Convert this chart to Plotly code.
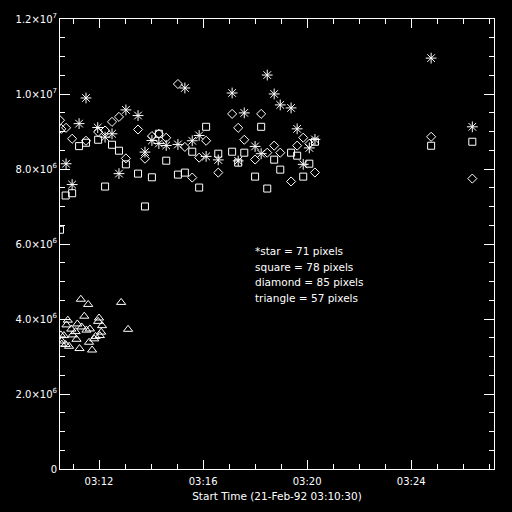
import datetime as dt
import plotly.graph_objects as go

# start reference time
START = dt.datetime(1992, 2, 21, 3, 10, 30)

# --- star series: seconds after start, value (x1e6)
star_t = [14, 28, 44, 60, 87, 104, 120, 136, 152, 180, 196, 212, 228, 245, 272, 288,
          305, 321, 337, 365, 397, 411, 425, 450, 464, 478, 494, 508, 533, 547, 561,
          575, 588, 856, 951]
star_v = [8.14, 7.585, 9.21, 9.894, 9.106, 8.849, 8.939, 7.877, 9.576, 9.425, 8.451,
          8.761, 8.681, 8.628, 8.655, 10.16, 8.753, 8.894, 8.336, 8.243, 10.027, 8.217,
          9.496, 8.602, 8.408, 10.505, 10.001, 9.709, 9.629, 9.071, 8.124, 8.562, 8.788,
          10.957, 9.125]

# --- square series
square_t = [0, 13, 28, 44, 60, 88, 104, 120, 136, 152, 180, 196, 212, 228, 245, 272,
            288, 305, 321, 337, 365, 397, 411, 425, 450, 464, 478, 494, 508, 533, 547,
            561, 575, 588, 856, 951]
square_v = [6.38, 7.293, 7.354, 8.61, 8.70, 8.78, 7.532, 8.647, 8.488, 8.124, 7.877,
            7.001, 7.779, 8.939, 8.222, 7.85, 7.904, 8.461, 7.505, 9.125, 8.408, 8.461,
            8.169, 8.435, 7.797, 9.125, 7.479, 8.249, 7.983, 8.435, 8.355, 7.797, 8.142,
            8.727, 8.62, 8.727]

# --- diamond series
diamond_t = [0, 3, 14, 28, 60, 88, 104, 120, 136, 152, 180, 196, 212, 228, 245, 272,
             288, 305, 321, 337, 365, 397, 411, 425, 450, 464, 478, 494, 508, 533, 547,
             561, 575, 588, 856, 951]
diamond_v = [9.30, 9.071, 9.098, 8.806, 8.753, 8.987, 9.027, 9.257, 9.39, 8.283, 9.053,
             8.275, 8.876, 8.939, 8.833, 10.266, 8.589, 7.771, 8.302, 8.753, 7.904, 9.47,
             9.098, 8.78, 8.251, 9.47, 8.435, 8.623, 8.435, 7.667, 8.623, 8.835, 8.673,
             7.906, 8.859, 7.744]

# --- triangle series
triangle_t = [48, 65, 141, 56, 157, 18, 90, 88, 97, 40, 15, 50, 69, 61, 26, 36, 29, 95,
              2, 9, 92, 82, 79, 38, 4, 67, 13, 21, 45, 74, 4]
triangle_v = [4.527, 4.389, 4.442, 4.075, 3.725, 3.969, 4.027, 3.937, 3.823, 3.868,
              3.842, 3.788, 3.735, 3.704, 3.73, 3.664, 3.576, 3.65, 3.576, 3.558, 3.558,
              3.536, 3.47, 3.459, 3.412, 3.38, 3.319, 3.273, 3.212, 3.173, 3.332]

legend_lines = ["*star = 71 pixels", "square = 78 pixels",
                "diamond = 85 pixels", "triangle = 57 pixels"]

y_tickvals = [0, 2e6, 4e6, 6e6, 8e6, 1.0e7, 1.2e7]
y_ticktext = ["0", "2.0×10<sup>6</sup>", "4.0×10<sup>6</sup>", "6.0×10<sup>6</sup>",
              "8.0×10<sup>6</sup>", "1.0×10<sup>7</sup>", "1.2×10<sup>7</sup>"]
x_title = "Start Time (21-Feb-92 03:10:30)"


def to_time(ts):
    return [START + dt.timedelta(seconds=s) for s in ts]


def to_val(vs):
    return [v * 1e6 for v in vs]


FONT = "DejaVu Sans"
fig = go.Figure()
series = [
    (star_t, star_v, "asterisk-open", 9),
    (square_t, square_v, "square-open", 7),
    (diamond_t, diamond_v, "diamond-open", 7),
    (triangle_t, triangle_v, "triangle-up-open", 8),
]
for t, v, sym, size in series:
    fig.add_trace(go.Scatter(
        x=to_time(t), y=to_val(v), mode="markers",
        marker=dict(symbol=sym, size=size, color="white",
                    line=dict(color="white", width=1)),
        showlegend=False, cliponaxis=True))

ly = [251.7, 268.3, 283.3, 299.0]
for txt, ypx in zip(legend_lines, ly):
    fig.add_annotation(text=txt, xref="paper", yref="paper",
                       x=(253 - 60) / 434, y=(471 - ypx) / 452,
                       xanchor="left", yanchor="middle", showarrow=False,
                       font=dict(family=FONT, size=10.5, color="white"))

fig.update_layout(
    width=512, height=512,
    paper_bgcolor="black", plot_bgcolor="black",
    margin=dict(l=60, r=18, t=19, b=41),
    font=dict(family=FONT, size=10, color="white"),
    showlegend=False,
)
fig.update_xaxes(
    type="date",
    range=[START, START + dt.timedelta(seconds=1001)],
    tick0=dt.datetime(1992, 2, 21, 3, 12), dtick=240000,
    tickformat="%H:%M",
    ticks="inside", ticklen=9, tickcolor="white", tickwidth=1,
    minor=dict(dtick=60000, tick0=dt.datetime(1992, 2, 21, 3, 12),
               ticks="inside", ticklen=5, tickcolor="white", tickwidth=1),
    showline=True, linecolor="white", linewidth=1, mirror="allticks",
    showgrid=False, zeroline=False,
    title=dict(text=x_title, standoff=6, font=dict(size=10.5)),
    tickfont=dict(size=10), ticklabelstandoff=3,
)
fig.update_yaxes(
    range=[0, 1.2e7],
    tickvals=y_tickvals, ticktext=y_ticktext,
    ticks="inside", ticklen=10, tickcolor="white", tickwidth=1,
    minor=dict(dtick=5e5, tick0=0, ticks="inside", ticklen=5,
               tickcolor="white", tickwidth=1),
    showline=True, linecolor="white", linewidth=1, mirror="allticks",
    showgrid=False, zeroline=False,
    tickfont=dict(size=10),
)
fig.write_html(
    "out.html",
    config={"displayModeBar": False},
    post_script="document.body.style.margin='0';"
                "document.body.style.background='black';",
)
